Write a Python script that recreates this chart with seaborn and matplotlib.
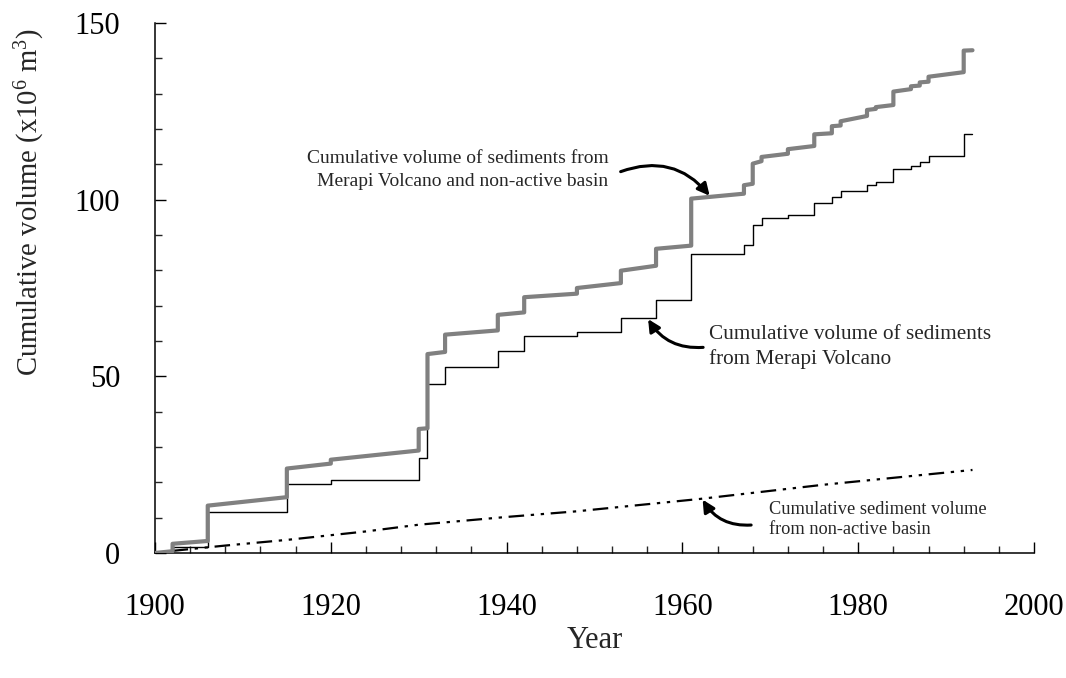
import numpy as np
import pandas as pd
import matplotlib
matplotlib.use('Agg')
import matplotlib.pyplot as plt
from matplotlib.ticker import MultipleLocator
import seaborn as sns

# ------------------------------------------------------------
# data
# ------------------------------------------------------------
# sediment from Merapi Volcano (step series, value holds until next year)
merapi_years = [1900, 1902, 1906, 1915, 1920, 1930, 1931, 1933, 1939, 1942,
                1948, 1953, 1957, 1961, 1967, 1968, 1969, 1972, 1975, 1977,
                1978, 1981, 1982, 1984, 1986, 1987, 1988, 1992, 1993]
merapi_vol = [0, 1.8, 11.6, 19.4, 20.7, 26.9, 47.7, 52.6, 57.2, 61.4,
              62.5, 66.5, 71.6, 84.5, 87.2, 92.9, 94.8, 95.8, 99.1, 100.9,
              102.4, 104.1, 105.0, 108.8, 109.6, 110.7, 112.3, 118.6, 118.6]

# Merapi + non-active basin (polyline, jumps are repeated years)
total_years = [1900, 1902, 1902, 1906, 1906, 1915, 1915, 1920, 1920, 1930,
               1930, 1931, 1931, 1933, 1933, 1939, 1939, 1942, 1942, 1948,
               1948, 1953, 1953, 1957, 1957, 1961, 1961, 1967, 1967, 1968,
               1968, 1969, 1969, 1972, 1972, 1975, 1975, 1977, 1977, 1978,
               1978, 1981, 1981, 1982, 1982, 1984, 1984, 1986, 1986, 1987,
               1987, 1988, 1988, 1992, 1992, 1993]
total_vol = [0, 0.5, 2.6, 3.4, 13.4, 15.8, 23.9, 25.3, 26.4, 29.0,
             35.1, 35.3, 56.3, 56.9, 61.8, 63.0, 67.4, 68.1, 72.4, 73.4,
             75.0, 76.4, 79.9, 81.3, 86.1, 87.0, 100.3, 101.7, 104.1, 104.5,
             110.2, 110.9, 112.1, 113.0, 114.3, 115.2, 118.5, 118.8, 120.8, 121.0,
             122.2, 123.7, 125.4, 125.7, 126.2, 126.8, 130.6, 131.3, 132.1, 132.3,
             133.2, 133.4, 134.8, 136.1, 142.2, 142.3]

# non-active basin
basin_years = [1902, 1908, 1915, 1924, 1930, 1940, 1948, 1962, 1976, 1993]
basin_vol = [0.6, 2.1, 3.7, 6.1, 8.0, 10.2, 11.8, 15.3, 19.3, 23.5]

# ------------------------------------------------------------
# style
# ------------------------------------------------------------
sns.set_style('ticks')
plt.rcParams['font.family'] = ['Liberation Serif', 'DejaVu Serif']
plt.rcParams['mathtext.default'] = 'regular'

fig = plt.figure(figsize=(10.66, 6.78), dpi=100)
ax = fig.add_axes([0.1454, 0.1844, 0.8246, 0.7816])

# ------------------------------------------------------------
# lines
# ------------------------------------------------------------
sns.lineplot(x=merapi_years, y=merapi_vol, drawstyle='steps-post',
             estimator=None, sort=False, color='black', lw=1.0, ax=ax, zorder=3)
sns.lineplot(x=total_years, y=total_vol, estimator=None, sort=False,
             color='#808080', lw=3.0, ax=ax, zorder=4)
sns.lineplot(x=basin_years, y=basin_vol, estimator=None, sort=False,
             color='black', lw=1.6, ax=ax, zorder=3,
             dashes=False, linestyle=(0, (7, 3, 1.5, 3, 1.5, 3)))

ax.set_xlim(1900, 2000)
ax.set_ylim(0, 150)
ax.xaxis.set_major_locator(MultipleLocator(20))
ax.xaxis.set_minor_locator(MultipleLocator(4))
ax.yaxis.set_major_locator(MultipleLocator(50))
ax.yaxis.set_minor_locator(MultipleLocator(10))
ax.tick_params(which='major', direction='in', length=8, width=1, labelsize=22, colors='black')
ax.tick_params(which='minor', direction='in', length=5, width=1)
ax.tick_params(axis='y', which='major', pad=25)
ax.tick_params(axis='x', which='major', pad=29)

sns.despine(ax=ax)
for s in ['left', 'bottom']:
    ax.spines[s].set_linewidth(1.1)
    ax.spines[s].set_color('black')

ax.set_xlabel('Year', fontsize=22, labelpad=3)
ax.set_ylabel('Cumulative volume (x10$^{6}$ m$^{3}$)', fontsize=20.6)
ax.yaxis.set_label_coords(-0.123, 0.662)

# ------------------------------------------------------------
# annotations
# ------------------------------------------------------------
arrow = dict(arrowstyle='-|>', color='black', lw=2.2, mutation_scale=18,
             shrinkA=0, shrinkB=0)

ax.annotate('Cumulative volume of sediments from\nMerapi Volcano and non-active basin',
            xy=(1963.1, 101.1), xytext=(1951.6, 108.5), fontsize=14,
            ha='right', va='center', linespacing=1.45,
            arrowprops=dict(arrow, connectionstyle='arc3,rad=-0.35',
                            relpos=(1.04, 0.45)))

ax.annotate('Cumulative volume of sediments\nfrom Merapi Volcano',
            xy=(1956.1, 66.2), xytext=(1963.0, 58.2), fontsize=15.3,
            ha='left', va='center', linespacing=1.35,
            arrowprops=dict(arrow, connectionstyle='arc3,rad=-0.3',
                            relpos=(-0.02, 0.5)))

ax.annotate('Cumulative sediment volume\nfrom non-active basin',
            xy=(1962.3, 15.1), xytext=(1969.8, 9.5), fontsize=13.2,
            ha='left', va='center', linespacing=1.27,
            arrowprops=dict(arrow, connectionstyle='arc3,rad=-0.3',
                            relpos=(-0.08, 0.35)))

plt.savefig('out.png', dpi=100)
